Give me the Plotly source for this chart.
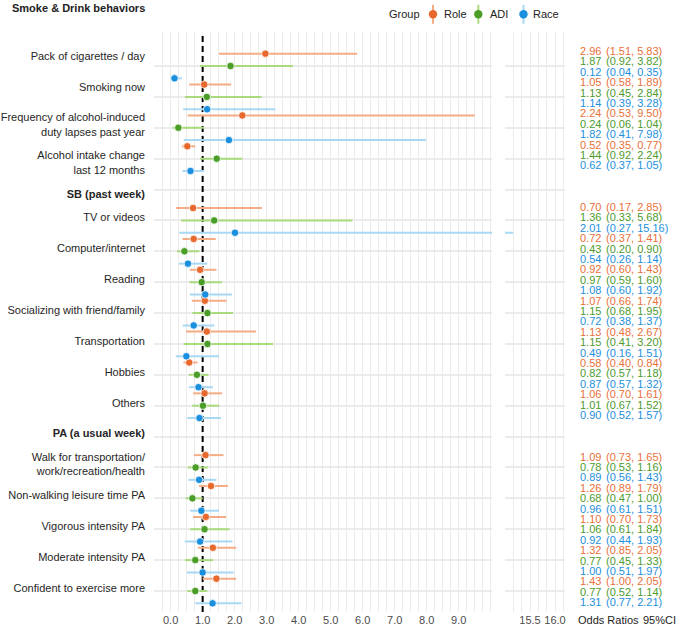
import plotly.graph_objects as go

# ---------------- data ----------------
labels = [
    "Pack of cigarettes / day<br> ",
    "Smoking now<br> ",
    "Frequency of alcohol-induced<br>duty lapses past year",
    " <br>Alcohol intake change<br>last 12 months",
    " <br><b>SB (past week)</b>",
    "TV or videos",
    "Computer/internet",
    "Reading",
    "Socializing with friend/family",
    "Transportation",
    "Hobbies",
    "Others",
    "<b>PA (a usual week)</b>",
    "Walk for transportation/<br>work/recreation/health",
    "Non-walking leisure time PA",
    "Vigorous intensity PA",
    "Moderate intensity PA",
    "Confident to exercise more",
]
is_header = [False, False, False, False, True, False, False, False, False, False,
             False, False, True, False, False, False, False, False]

groups = ["Role", "ADI", "Race"]

role_or = [2.96, 1.05, 2.24, 0.52, None, 0.70, 0.72, 0.92, 1.07, 1.13, 0.58, 1.06, None, 1.09, 1.26, 1.10, 1.32, 1.43]
role_lo = [1.51, 0.58, 0.53, 0.35, None, 0.17, 0.37, 0.60, 0.66, 0.48, 0.40, 0.70, None, 0.73, 0.89, 0.70, 0.85, 1.00]
role_hi = [5.83, 1.89, 9.50, 0.77, None, 2.85, 1.41, 1.43, 1.74, 2.67, 0.84, 1.61, None, 1.65, 1.79, 1.73, 2.05, 2.05]

adi_or = [1.87, 1.13, 0.24, 1.44, None, 1.36, 0.43, 0.97, 1.15, 1.15, 0.82, 1.01, None, 0.78, 0.68, 1.06, 0.77, 0.77]
adi_lo = [0.92, 0.45, 0.06, 0.92, None, 0.33, 0.20, 0.59, 0.68, 0.41, 0.57, 0.67, None, 0.53, 0.47, 0.61, 0.45, 0.52]
adi_hi = [3.82, 2.84, 1.04, 2.24, None, 5.68, 0.90, 1.60, 1.95, 3.20, 1.18, 1.52, None, 1.16, 1.00, 1.84, 1.33, 1.14]

race_or = [0.12, 1.14, 1.82, 0.62, None, 2.01, 0.54, 1.08, 0.72, 0.49, 0.87, 0.90, None, 0.89, 0.96, 0.92, 1.00, 1.31]
race_lo = [0.04, 0.39, 0.41, 0.37, None, 0.27, 0.26, 0.60, 0.38, 0.16, 0.57, 0.52, None, 0.56, 0.61, 0.44, 0.51, 0.77]
race_hi = [0.35, 3.28, 7.98, 1.05, None, 15.16, 1.14, 1.92, 1.37, 1.51, 1.32, 1.57, None, 1.43, 1.51, 1.93, 1.97, 2.21]

x_ticks_main = [0, 1, 2, 3, 4, 5, 6, 7, 8, 9]
x_ticks_gap = [15.5, 16.0]
ref_value = 1.0

series = {
    "Role": (role_or, role_lo, role_hi),
    "ADI": (adi_or, adi_lo, adi_hi),
    "Race": (race_or, race_lo, race_hi),
}

# ---------------- styles ----------------
W, H = 677, 625
point_col = {"Role": "#E8692E", "ADI": "#4A9E28", "Race": "#1A8FDE"}
line_col = {"Role": "#F5AC84", "ADI": "#A9DA7C", "Race": "#A8D8F3"}
text_col = {"Role": "#E8703A", "ADI": "#4E9A2E", "Race": "#1E8FDC"}
dodge = {"Role": -0.4, "ADI": 0.0, "Race": 0.4}
GRID = "#EBEBEB"
FONT = "Liberation Sans, Arial, sans-serif"
DARK = "#222222"

def px_x(p):
    return p / W

def px_y(p):
    return 1 - p / H

panel_top, panel_bot = 32, 612
ydom = [px_y(panel_bot), px_y(panel_top)]

# y range: category k=0 (ADI) at 66 px, ~30.9 px per category
ppu = (591 - 66) / 17.0
y_top = 0 - (66 - panel_top) / ppu
y_bot = 17 + (panel_bot - 591) / ppu

# text rows: row 0 at 51 px, 10.4 px per row
rpu = 10.4
r_top = 0 - (51 - panel_top) / rpu
r_bot = (panel_bot - 51) / rpu

fig = go.Figure()

# reference line at OR = 1 (drawn first, under the points, above the grid)
fig.add_trace(go.Scatter(
    x=[ref_value, ref_value], y=[y_bot, y_top], mode="lines", showlegend=False,
    xaxis="x", yaxis="y", line=dict(color="black", width=2, dash="6px,4px"), hoverinfo="skip",
))

for g in groups:
    o, lo, hi = series[g]
    xs, ys, ep, em = [], [], [], []
    for k, v in enumerate(o):
        if v is None:
            continue
        xs.append(v)
        ys.append(k + dodge[g])
        ep.append(hi[k] - v)
        em.append(v - lo[k])
    for xa in ("x", "x2"):
        fig.add_trace(go.Scatter(
            x=xs, y=ys, mode="markers", name=g, showlegend=False,
            xaxis=xa, yaxis="y",
            marker=dict(color=point_col[g], size=7.5, line=dict(color="white", width=0.8)),
            error_x=dict(type="data", symmetric=False, array=ep, arrayminus=em,
                         color=line_col[g], thickness=2, width=0),
            hoverinfo="skip",
        ))

# text column rows
row = 0
for k, lab in enumerate(labels):
    if is_header[k]:
        row += 3
        continue
    for g in groups:
        o, lo, hi = series[g]
        fig.add_annotation(x=0, y=row, xref="x3", yref="y3", xanchor="left", yanchor="middle",
                           text=f"{o[k]:.2f}", showarrow=False, borderpad=0,
                           font=dict(size=11, color=text_col[g], family=FONT))
        fig.add_annotation(x=1, y=row, xref="x3", yref="y3", xanchor="left", yanchor="middle",
                           text=f"({lo[k]:.2f}, {hi[k]:.2f})", showarrow=False, borderpad=0,
                           font=dict(size=11, color=text_col[g], family=FONT))
        row += 1

# header and bottom column labels
fig.add_annotation(xref="paper", yref="paper", x=px_x(146), y=px_y(8), xanchor="right", yanchor="middle",
                   text="<b>Smoke & Drink behaviors</b>", showarrow=False, borderpad=0,
                   font=dict(size=11, color=DARK, family=FONT))
fig.add_annotation(xref="paper", yref="paper", x=px_x(577), y=px_y(620), xanchor="left", yanchor="middle",
                   text="Odds Ratios", showarrow=False, borderpad=0, font=dict(size=11, color=DARK, family=FONT))
fig.add_annotation(xref="paper", yref="paper", x=px_x(642), y=px_y(620), xanchor="left", yanchor="middle",
                   text="95%CI", showarrow=False, borderpad=0, font=dict(size=11, color=DARK, family=FONT))

# manual legend (title + pointrange keys)
leg_y = 14.3
leg_key_x = {"Role": 433, "ADI": 478.3, "Race": 523.5}
leg_txt_x = {"Role": 443, "ADI": 489, "Race": 532}
fig.add_annotation(xref="paper", yref="paper", x=px_x(388), y=px_y(leg_y), xanchor="left", yanchor="middle",
                   text="Group", showarrow=False, borderpad=0, font=dict(size=11, color=DARK, family=FONT))
for g in groups:
    kx = leg_key_x[g]
    fig.add_shape(type="line", xref="paper", yref="paper", x0=px_x(kx), x1=px_x(kx),
                  y0=px_y(leg_y - 9.5), y1=px_y(leg_y + 9.5), line=dict(color=line_col[g], width=2))
    fig.add_shape(type="circle", xref="paper", yref="paper", xsizemode="pixel", ysizemode="pixel",
                  xanchor=px_x(kx), yanchor=px_y(leg_y), x0=-4.2, x1=4.2, y0=-4.2, y1=4.2,
                  fillcolor=point_col[g], line=dict(width=0))
    fig.add_annotation(xref="paper", yref="paper", x=px_x(leg_txt_x[g]), y=px_y(leg_y), xanchor="left",
                       yanchor="middle", text=g, showarrow=False, borderpad=0,
                       font=dict(size=11, color=DARK, family=FONT))

fig.update_layout(
    width=W, height=H,
    margin=dict(l=0, r=0, t=0, b=0),
    paper_bgcolor="white", plot_bgcolor="white",
    font=dict(family=FONT, size=11, color="#333333"),
    showlegend=False,
    xaxis=dict(
        domain=[px_x(154), px_x(492)], range=[-0.52, 10.04],
        tickmode="array", tickvals=x_ticks_main, tickformat=".1f",
        showgrid=True, gridcolor=GRID, gridwidth=1.2, zeroline=False, showline=False,
        ticks="", tickfont=dict(size=11, color="#4D4D4D"),
        minor=dict(tickmode="linear", tick0=0, dtick=0.25, showgrid=True, gridcolor=GRID, gridwidth=1.0),
        anchor="y",
    ),
    xaxis2=dict(
        domain=[px_x(505), px_x(565)], range=[15.0, 16.2],
        tickmode="array", tickvals=x_ticks_gap, tickformat=".1f",
        showgrid=True, gridcolor=GRID, gridwidth=1.2, zeroline=False, showline=False,
        ticks="", tickfont=dict(size=11, color="#4D4D4D"),
        minor=dict(tickmode="linear", tick0=15.5, dtick=1/6, showgrid=True, gridcolor=GRID, gridwidth=1.0),
        anchor="y",
    ),
    yaxis=dict(
        domain=ydom, range=[y_bot, y_top],
        tickmode="array", tickvals=list(range(len(labels))), ticktext=labels,
        showgrid=True, gridcolor=GRID, gridwidth=1.5, zeroline=False, showline=False,
        ticks="", tickfont=dict(size=11, color="#262626"),
        ticklabelstandoff=8, ticklabelshift=3,
        anchor="x",
    ),
    xaxis3=dict(domain=[px_x(579), 1.0], range=[0, (W - 579) / 26.0], visible=False, anchor="y3"),
    yaxis3=dict(domain=ydom, range=[r_bot, r_top], visible=False, anchor="x3"),
)

fig.write_html("out.html")
